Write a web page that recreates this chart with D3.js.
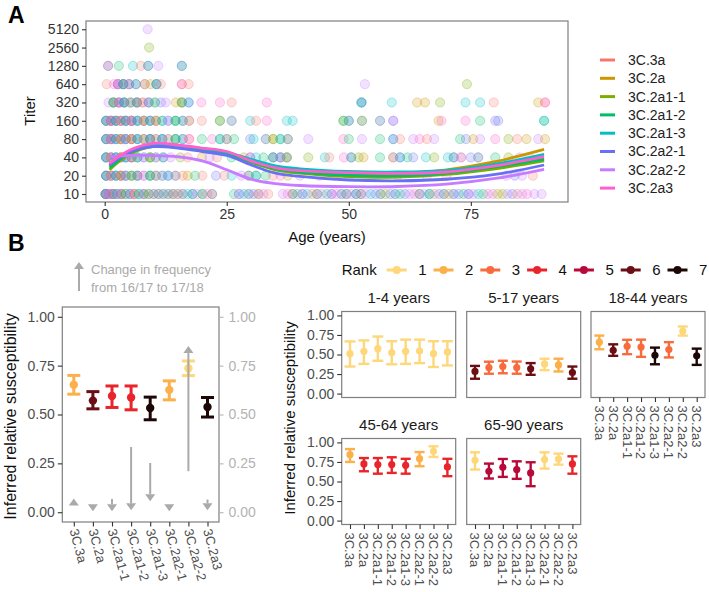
<!DOCTYPE html>
<html>
<head>
<meta charset="utf-8">
<script src="https://cdn.jsdelivr.net/npm/d3@7"></script>
<style>
  body { margin: 0; background: #fff; }
  svg { display: block; font-family: "Liberation Sans", Arial, sans-serif; }
</style>
</head>
<body>
<svg id="fig" width="709" height="592"></svg>
<script>
// ---- data ----
const clades = ["3C.3a", "3C.2a", "3C.2a1-1", "3C.2a1-2", "3C.2a1-3", "3C.2a2-1", "3C.2a2-2", "3C.2a3"];
const cladeColors = ["#F8766D", "#CD9600", "#7CAE00", "#00BE67", "#00BFC4", "#6A70F5", "#C77CFF", "#FF61CC"];
const titers = [10, 20, 40, 80, 160, 320, 640, 1280, 2560, 5120];
const ageTicks = [0, 25, 50, 75];

// scatter rows: [age, clade indices sharing that spot]
const pts5120 = [[8.8, "6"]];
const pts2560 = [[9.1, "2"]];
const pts1280 = [[0.7, "05"], [2.9, "3"], [5.8, "4"], [7.4, "0"], [8.9, "35"], [11, "6"], [15.8, "35"]];
const pts640 = [[0.4, "0"], [1.9, "7"], [2.7, "0567"], [3.8, "1345"], [5, "256"], [6.4, "35"], [8.2, "27"], [9.4, "1"],
  [10.6, "345"], [11.5, "0"], [15.8, "07"], [17.2, "0"], [53.3, "6"], [74.2, "2"]];
const pts320 = [[0.8, "6"], [1.8, "0134"], [2.9, "2567"], [4, "0345"], [5.3, "136"], [6.6, "0245"], [7.8, "17"], [9, "356"],
  [10.3, "24"], [11.5, "5"], [12.5, "6"], [14.6, "1"], [15.8, "023"], [17.2, "45"], [19.8, "7"], [23.6, "7"], [26, "0"],
  [33.2, "7"], [52.6, "345"], [58.8, "4"], [64, "1"], [65.6, "1"], [68.7, "2"], [73.9, "4"], [76.9, "4"], [79.7, "0"],
  [88.8, "1"], [90.2, "07"]];
const pts160 = [[0.3, "0345"], [1.3, "12567"], [2.3, "0345"], [3.3, "1267"], [4.3, "0345"], [5.5, "12567"], [6.7, "345"],
  [8, "0126"], [9.3, "345"], [10.5, "127"], [11.8, "34"], [13, "56"], [14.5, "234"], [16, "35"], [17.3, "27"], [19.9, "0"],
  [23.6, "13"], [26, "36"], [29.8, "4"], [31, "0"], [33.2, "7"], [37.3, "4"], [38.5, "4"], [48.9, "23"], [50, "35"],
  [52.7, "03"], [56.4, "36"], [59.1, "56"], [68.4, "1"], [69, "7"], [73.9, "7"], [76.9, "3"], [80, "5"], [80.6, "5"], [90, "34"]];
const pts80 = [[0.3, "0345"], [1.3, "12567"], [2.3, "345"], [3.3, "0127"], [4.3, "3456"], [5.5, "0127"], [6.7, "345"],
  [8, "126"], [9.3, "0345"], [10.5, "27"], [11.8, "345"], [13, "16"], [14.5, "234"], [16, "35"], [17.3, "07"], [19.9, "3"],
  [22, "7"], [23.6, "34"], [25, "15"], [26.5, "3"], [29.8, "5"], [30.5, "4"], [33, "36"], [34.5, "12"], [36, "34"],
  [37.5, "25"], [41.7, "6"], [48.9, "7"], [50, "3"], [52.7, "6"], [56.4, "3"], [59.1, "45"], [60.5, "0"], [63.2, "6"],
  [64.5, "7"], [66, "0"], [67.5, "6"], [72.8, "3"], [74, "5"], [75.5, "1"], [76.9, "6"], [80, "7"], [82.7, "2"], [84.5, "0"],
  [86.4, "1"], [88.8, "6"], [90.2, "1"]];
const pts40 = [[0.3, "0345"], [1.3, "1267"], [2.3, "345"], [3.3, "0126"], [4.3, "345"], [5.5, "1257"], [6.7, "034"],
  [8, "56"], [9.3, "123"], [10.5, "47"], [12, "35"], [13.5, "6"], [15.5, "2"], [17, "0"], [19.9, "1"], [21.5, "6"], [23, "0"],
  [26, "3"], [28.5, "1"], [29.8, "57"], [31, "4"], [32.5, "3"], [34.5, "245"], [36, "356"], [37.3, "014"], [41.7, "2"],
  [45.1, "4"], [46, "0"], [49, "7"], [50.5, "35"], [52, "2"], [53, "1"], [56.4, "3"], [59.1, "27"], [60.5, "45"], [62, "3"],
  [63.2, "5"], [65.8, "4"], [67.5, "2"], [70.3, "4"], [71.5, "35"], [73, "06"], [75, "5"], [76.5, "36"], [80, "3"],
  [82.7, "2"], [85, "6"], [87, "7"]];
const pts20 = [[0.3, "0345"], [1.3, "1267"], [2.3, "345"], [3.3, "0127"], [4.3, "356"], [5.5, "124"], [6.7, "035"],
  [8, "67"], [9.3, "234"], [10.5, "15"], [11.8, "36"], [13, "45"], [14.5, "37"], [16, "0"], [17, "1"], [18.5, "3"], [20, "0"],
  [22.8, "5"], [24.5, "0"], [26, "4"], [28, "6"], [29.5, "25"], [31, "34"], [33, "3"], [34.5, "0"], [36, "7"], [37.5, "1"],
  [40, "6"], [44, "7"], [47, "0"], [50, "2"], [55, "6"], [60, "7"], [66, "6"], [70, "0"], [82.3, "6"], [84, "5"],
  [85.5, "6"], [87.7, "0"]];
const pts10 = [[0.2, "0123456"], [0.9, "567"], [1.7, "01256"], [2.5, "346"], [3.4, "0156"], [4.3, "23"], [5.2, "456"],
  [6.1, "017"], [7, "34"], [8, "256"], [9, "13"], [10, "47"], [11, "25"], [12, "36"], [13, "04"], [14, "15"], [15, "26"],
  [16, "37"], [17, "4"], [18, "35"], [19, "6"], [20, "24"], [21, "7"], [22, "15"], [26.5, "3"], [27.5, "56"], [28.5, "4"],
  [29.5, "36"], [30.5, "5"], [31.5, "27"], [32.5, "6"], [33.5, "0"], [36.5, "6"], [37.5, "7"], [38.5, "15"], [39.5, "3"],
  [40.5, "56"], [41.5, "4"], [42.5, "0"], [43.5, "25"], [44.5, "6"], [45.5, "3"], [46.5, "56"], [47.5, "7"], [48.5, "46"],
  [49.5, "25"], [50.5, "6"], [51.5, "35"], [52.5, "15"], [53.5, "6"], [54.5, "4"], [55.5, "5"], [56.5, "36"], [57.5, "2"],
  [58.5, "5"], [59.5, "46"], [60.5, "3"], [61.5, "5"], [62.5, "6"], [63.5, "7"], [64.5, "25"], [65.5, "6"], [66.5, "34"],
  [67.5, "0"], [68.5, "5"], [69.5, "36"], [70.5, "1"], [71.5, "46"], [72.5, "5"], [73.5, "3"], [74.5, "56"], [75.5, "6"],
  [76.5, "4"], [77.5, "3"], [78.5, "7"], [79.5, "6"], [80.5, "1"], [81.5, "2"], [82.5, "6"], [83.5, "5"], [84.5, "0"],
  [85.5, "6"], [86.5, "7"], [88, "6"], [89.5, "6"]];

// smoothed titer per clade, read at these ages
const smoothAges = [1, 5, 10, 15, 20, 25, 30, 35, 40, 50, 60, 70, 80, 90];
const smoothTiters = [
  [29, 49, 63, 61, 55, 48, 35, 27, 24, 21.5, 21, 22.5, 28, 39],
  [28, 48, 62, 60, 54, 47, 34, 26, 23, 21, 21.5, 25, 34, 54],
  [25, 45, 61, 60, 53, 46, 33, 25, 22, 19.3, 19, 21, 26, 35],
  [27, 47, 63, 61, 55, 47, 34, 26, 23, 20.5, 20, 22, 28, 37],
  [30, 50, 64, 62, 56, 49, 37, 29, 26, 23.5, 23, 24.5, 31, 45],
  [30, 48, 60, 57, 50, 43, 30, 22, 19.5, 17, 16.5, 17.5, 21, 30],
  [41, 43, 43, 41, 35, 25, 17.5, 14.8, 13.8, 13.2, 13.3, 14.5, 18, 25.5],
  [32, 52, 68, 64, 57, 50, 35, 27, 24.2, 22.4, 21.8, 23, 29, 41]
];

// panel B, all ages
const rankColors = ["#FDD77A", "#FBB04A", "#F86B3C", "#E8252B", "#B80A3A", "#6B0F14", "#1C0606"];
const suscMean = [0.652, 0.571, 0.595, 0.587, 0.533, 0.626, 0.737, 0.538];
const suscLo = [0.604, 0.529, 0.536, 0.524, 0.473, 0.575, 0.699, 0.487];
const suscHi = [0.700, 0.617, 0.646, 0.646, 0.589, 0.672, 0.774, 0.587];
const suscRank = [2, 6, 4, 4, 7, 2, 1, 7];
const freqFrom = [0.035, 0.04, 0.068, 0.334, 0.252, 0.04, 0.21, 0.065];
const freqTo = [0.07, 0.005, 0.005, 0.01, 0.056, 0.005, 0.85, 0.01];

// panel B, by age group
const ageGroups = ["1-4 years", "5-17 years", "18-44 years", "45-64 years", "65-90 years"];
const groupMean = [
  [0.51, 0.54, 0.575, 0.525, 0.54, 0.545, 0.51, 0.533],
  [0.283, 0.333, 0.346, 0.333, 0.317, 0.38, 0.367, 0.27],
  [0.658, 0.554, 0.604, 0.596, 0.49, 0.5625, 0.80, 0.483],
  [0.843, 0.725, 0.716, 0.716, 0.708, 0.792, 0.886, 0.686],
  [0.771, 0.631, 0.682, 0.653, 0.61, 0.78, 0.788, 0.725]
];
const groupLo = [
  [0.346, 0.38, 0.42, 0.375, 0.38, 0.39, 0.34, 0.36],
  [0.19, 0.254, 0.26, 0.254, 0.24, 0.30, 0.283, 0.19],
  [0.567, 0.483, 0.504, 0.47, 0.375, 0.4625, 0.742, 0.367],
  [0.75, 0.631, 0.60, 0.61, 0.60, 0.695, 0.814, 0.568],
  [0.653, 0.538, 0.559, 0.534, 0.44, 0.665, 0.716, 0.60]
];
const groupHi = [
  [0.667, 0.68, 0.73, 0.67, 0.69, 0.69, 0.67, 0.67],
  [0.354, 0.408, 0.42, 0.41, 0.39, 0.446, 0.446, 0.346],
  [0.742, 0.63, 0.688, 0.69, 0.588, 0.658, 0.858, 0.575],
  [0.915, 0.80, 0.80, 0.81, 0.79, 0.877, 0.95, 0.79],
  [0.873, 0.729, 0.788, 0.758, 0.746, 0.873, 0.856, 0.822]
];
const groupRank = [
  [1, 1, 1, 1, 1, 1, 1, 1],
  [6, 3, 3, 3, 6, 1, 2, 6],
  [2, 6, 3, 3, 7, 3, 1, 7],
  [2, 4, 4, 4, 4, 2, 1, 4],
  [1, 5, 5, 5, 5, 1, 1, 4]
];
const suscTicks = [0, 0.25, 0.5, 0.75, 1];

// ---- drawing ----
const svg = d3.select("#fig");
const tickCol = "#4d4d4d";
const borderCol = "#7f7f7f";

function styleAxis(g, size, color) {
  g.select(".domain").remove();
  g.selectAll(".tick line").attr("stroke", "#333").attr("stroke-width", 1.1);
  g.selectAll(".tick text").attr("font-size", size).attr("fill", color || tickCol);
}

function panelBorder(x0, y0, w, h) {
  svg.append("rect").attr("x", x0).attr("y", y0).attr("width", w).attr("height", h)
    .attr("fill", "none").attr("stroke", borderCol).attr("stroke-width", 1.2);
}

// ---------- Panel A ----------
const A = { left: 86, right: 568, top: 21, bottom: 202 };
const xA = d3.scaleLinear().domain([-3.83, 94.9]).range([A.left, A.right]);
const yA = d3.scaleLog().base(2).domain([7.39, 6997]).range([A.bottom, A.top]);

const scatter = [];
[[10, pts10], [20, pts20], [40, pts40], [80, pts80], [160, pts160], [320, pts320],
 [640, pts640], [1280, pts1280], [2560, pts2560], [5120, pts5120]].forEach(([titer, row]) => {
  row.forEach(([age, cs]) => {
    [...cs].forEach(c => scatter.push({ age, titer, clade: +c }));
  });
});

svg.append("g").selectAll("circle")
  .data(scatter)
  .join("circle")
  .attr("cx", d => xA(d.age))
  .attr("cy", d => yA(d.titer))
  .attr("r", 4.6)
  .attr("fill", d => cladeColors[d.clade])
  .attr("fill-opacity", 0.22)
  .attr("stroke", d => cladeColors[d.clade])
  .attr("stroke-opacity", 0.38)
  .attr("stroke-width", 0.8);

const smoothLine = d3.line()
  .x((d, i) => xA(smoothAges[i]))
  .y(d => yA(d))
  .curve(d3.curveCatmullRom.alpha(0.5));

smoothTiters.forEach((vals, k) => {
  svg.append("path")
    .attr("d", smoothLine(vals))
    .attr("fill", "none")
    .attr("stroke", cladeColors[k])
    .attr("stroke-width", 2.8);
});

panelBorder(A.left, A.top, A.right - A.left, A.bottom - A.top);

svg.append("g")
  .attr("transform", `translate(${A.left},0)`)
  .call(d3.axisLeft(yA).tickValues(titers).tickFormat(d => d).tickSize(4).tickPadding(3))
  .call(g => styleAxis(g, 14, "#333"));

svg.append("g")
  .attr("transform", `translate(0,${A.bottom})`)
  .call(d3.axisBottom(xA).tickValues(ageTicks).tickSize(4).tickPadding(3))
  .call(g => styleAxis(g, 14, "#333"));

svg.append("text").attr("x", 327).attr("y", 242).attr("text-anchor", "middle")
  .attr("font-size", 15).attr("fill", "#111").text("Age (years)");
svg.append("text").attr("transform", "translate(35,111) rotate(-90)").attr("text-anchor", "middle")
  .attr("font-size", 15).attr("fill", "#111").text("Titer");

svg.append("text").attr("x", 8).attr("y", 23).attr("font-size", 23).attr("font-weight", "bold").text("A");
svg.append("text").attr("x", 8).attr("y", 251).attr("font-size", 23).attr("font-weight", "bold").text("B");

// legend A
const legA = svg.append("g").attr("transform", "translate(600,60)");
clades.forEach((c, i) => {
  const row = legA.append("g").attr("transform", `translate(0,${i * 18.3})`);
  row.append("line").attr("x1", 0).attr("x2", 15).attr("stroke", cladeColors[i]).attr("stroke-width", 3);
  row.append("text").attr("x", 28).attr("dy", "0.35em").attr("font-size", 14).attr("fill", "#222").text(c);
});

// ---------- shared helpers for B ----------
function arrow(g, x, y0, y1, color) {
  const dir = y1 < y0 ? -1 : 1;
  const headLen = 7, headHalf = 5;
  if (Math.abs(y1 - y0) > headLen) {
    g.append("line").attr("x1", x).attr("x2", x).attr("y1", y0).attr("y2", y1 - dir * headLen)
      .attr("stroke", color).attr("stroke-width", 2);
  }
  g.append("path")
    .attr("d", `M${x},${y1} L${x - headHalf},${y1 - dir * headLen} L${x + headHalf},${y1 - dir * headLen} Z`)
    .attr("fill", color);
}

function errorBars(g, x, y, mean, lo, hi, rank, capHalf, lw, r) {
  clades.forEach((c, i) => {
    const col = rankColors[rank[i] - 1];
    const cx = x(c);
    g.append("line").attr("x1", cx).attr("x2", cx).attr("y1", y(lo[i])).attr("y2", y(hi[i]))
      .attr("stroke", col).attr("stroke-width", lw);
    [lo[i], hi[i]].forEach(v => {
      g.append("line").attr("x1", cx - capHalf).attr("x2", cx + capHalf).attr("y1", y(v)).attr("y2", y(v))
        .attr("stroke", col).attr("stroke-width", lw);
    });
    g.append("circle").attr("cx", cx).attr("cy", y(mean[i])).attr("r", r).attr("fill", col);
  });
}

// ---------- Panel B left ----------
const B = { left: 62.3, right: 219, top: 307, bottom: 522 };
const xB = d3.scalePoint().domain(clades).range([73.8, 207.5]);
const yB = d3.scaleLinear().domain([-0.05, 1.05]).range([B.bottom, B.top]);
const gB = svg.append("g");

errorBars(gB, xB, yB, suscMean, suscLo, suscHi, suscRank, 6.5, 3, 4.2);
clades.forEach((c, i) => arrow(gB, xB(c), yB(freqFrom[i]), yB(freqTo[i]), "#aaaaaa"));
panelBorder(B.left, B.top, B.right - B.left, B.bottom - B.top);

svg.append("g").attr("transform", `translate(${B.left},0)`)
  .call(d3.axisLeft(yB).tickValues(suscTicks).tickFormat(d3.format(".2f")).tickSize(4.5).tickPadding(3))
  .call(g => styleAxis(g, 14));
svg.append("g").attr("transform", `translate(${B.right},0)`)
  .call(d3.axisRight(yB).tickValues(suscTicks).tickFormat(d3.format(".2f")).tickSize(4.5).tickPadding(5))
  .call(g => styleAxis(g, 14, "#b3b3b3"))
  .call(g => g.selectAll(".tick line").attr("stroke", "#b3b3b3"));

svg.append("g").attr("transform", `translate(0,${B.bottom})`)
  .call(d3.axisBottom(xB).tickSize(4.5).tickFormat(""))
  .call(g => styleAxis(g, 13));
clades.forEach(c => {
  svg.append("text").attr("transform", `translate(${xB(c)},${B.bottom + 7}) rotate(75)`)
    .attr("dy", "0.35em").attr("font-size", 13).attr("fill", tickCol).text(c);
});

svg.append("text").attr("transform", `translate(16,${(B.top + B.bottom) / 2 + 2}) rotate(-90)`)
  .attr("text-anchor", "middle").attr("font-size", 16).attr("fill", "#111")
  .text("Inferred relative susceptibility");

// change in frequency key
arrow(svg, 79, 291, 262, "#aaaaaa");
svg.append("text").attr("x", 91).attr("y", 274).attr("font-size", 13).attr("fill", "#aaaaaa").text("Change in frequency");
svg.append("text").attr("x", 91).attr("y", 292).attr("font-size", 13).attr("fill", "#aaaaaa").text("from 16/17 to 17/18");

// ---------- Panel B facets ----------
const facetCols = [341.7, 466.7, 591];
const facetRows = [311.5, 438.5];
const facetW = 114, facetH = 86;
const facetPos = [[0, 0], [0, 1], [0, 2], [1, 0], [1, 1]];

facetPos.forEach(([r, c], k) => {
  const x0 = facetCols[c], y0 = facetRows[r];
  const xF = d3.scalePoint().domain(clades).range([x0 + 8.3, x0 + facetW - 8.3]);
  const yF = d3.scaleLinear().domain([-0.05, 1.05]).range([y0 + facetH, y0]);
  const g = svg.append("g");
  errorBars(g, xF, yF, groupMean[k], groupLo[k], groupHi[k], groupRank[k], k === 0 ? 5.5 : 5, 2.4, 3.6);
  panelBorder(x0, y0, facetW, facetH);

  svg.append("text").attr("x", x0 + facetW / 2).attr("y", y0 - 9).attr("text-anchor", "middle")
    .attr("font-size", 15).attr("fill", "#1a1a1a").text(ageGroups[k]);

  if (c === 0) {
    svg.append("g").attr("transform", `translate(${x0},0)`)
      .call(d3.axisLeft(yF).tickValues(suscTicks).tickFormat(d3.format(".2f")).tickSize(4.5).tickPadding(3))
      .call(g => styleAxis(g, 14));
  }
  if (r === 1 || c === 2) {
    svg.append("g").attr("transform", `translate(0,${y0 + facetH})`)
      .call(d3.axisBottom(xF).tickSize(4.5).tickFormat(""))
      .call(g => styleAxis(g, 13));
    clades.forEach(cl => {
      svg.append("text").attr("transform", `translate(${xF(cl)},${y0 + facetH + 8}) rotate(90)`)
        .attr("dy", "0.35em").attr("font-size", 13).attr("fill", tickCol).text(cl);
    });
  }
});

svg.append("text").attr("transform", `translate(295,418) rotate(-90)`)
  .attr("text-anchor", "middle").attr("font-size", 15).attr("fill", "#111")
  .text("Inferred relative susceptibility");

// rank legend
svg.append("text").attr("x", 341.7).attr("y", 270).attr("dy", "0.35em")
  .attr("font-size", 15).attr("fill", "#111").text("Rank");
rankColors.forEach((col, i) => {
  const cx = 396.7 + i * 46.8;
  svg.append("line").attr("x1", cx - 10).attr("x2", cx + 10).attr("y1", 270).attr("y2", 270)
    .attr("stroke", col).attr("stroke-width", 3);
  svg.append("circle").attr("cx", cx).attr("cy", 270).attr("r", 4).attr("fill", col);
  svg.append("text").attr("x", cx + 21.5).attr("y", 270).attr("dy", "0.35em")
    .attr("font-size", 15).attr("fill", "#111").text(i + 1);
});
</script>
</body>
</html>
